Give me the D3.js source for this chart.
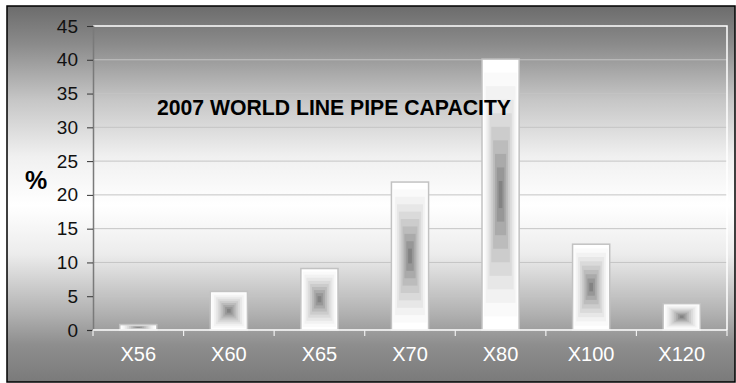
<!DOCTYPE html>
<html>
<head>
<meta charset="utf-8">
<script src="https://cdn.jsdelivr.net/npm/d3@7/dist/d3.min.js"></script>
<style>
  html, body { margin: 0; padding: 0; background: #ffffff; }
  svg { display: block; }
  text { font-family: "Liberation Sans", Arial, sans-serif; }
</style>
</head>
<body>
<svg id="chart" width="736" height="383"></svg>
<script>
// Share of world line pipe capacity by steel grade, 2007 (%)
const grades = ["X56", "X60", "X65", "X70", "X80", "X100", "X120"];
const shares = [0.8, 5.7, 9.1, 21.9, 40.1, 12.7, 3.9];
const yTicks = [0, 5, 10, 15, 20, 25, 30, 35, 40, 45];
const titleText = "2007 WORLD LINE PIPE CAPACITY";
const yAxisLabel = "%";

const svg = d3.select("#chart");
const frame = { x: 7, y: 6, w: 728, h: 376 };
const plot = { left: 93, right: 727, top: 26, bottom: 330 };

const defs = svg.append("defs");

// Vertical grey-white-grey background wash
const bg = defs.append("linearGradient")
  .attr("id", "bgGrad").attr("x1", 0).attr("y1", 0).attr("x2", 0).attr("y2", 1);
[
  [0.00, "#6c6c6c"],
  [0.10, "#8a8a8a"],
  [0.25, "#c6c6c6"],
  [0.40, "#f0f0f0"],
  [0.53, "#ffffff"],
  [0.66, "#ececec"],
  [0.82, "#b0b0b0"],
  [0.90, "#8e8e8e"],
  [1.00, "#7a7a7a"]
].forEach(([o, c]) => bg.append("stop").attr("offset", o).attr("stop-color", c));

svg.append("rect")
  .attr("x", frame.x).attr("y", frame.y)
  .attr("width", frame.w).attr("height", frame.h)
  .attr("fill", "url(#bgGrad)");

const x = d3.scaleBand()
  .domain(grades)
  .range([plot.left, plot.right])
  .paddingInner(0.59)
  .paddingOuter(0.295);

const y = d3.scaleLinear()
  .domain([0, 45])
  .range([plot.bottom, plot.top]);

// Horizontal gridlines
svg.append("g")
  .selectAll("line")
  .data(yTicks.filter(t => t > 0 && t < 45))
  .join("line")
  .attr("x1", plot.left).attr("x2", plot.right)
  .attr("y1", d => y(d)).attr("y2", d => y(d))
  .attr("stroke", "#c4c4c4").attr("stroke-width", 1);

// Plot area frame (top and right edges in white)
svg.append("path")
  .attr("d", `M${plot.left},${plot.top}H${plot.right}V${plot.bottom}`)
  .attr("fill", "none").attr("stroke", "#ffffff").attr("stroke-width", 1.5);

// Bars with stepped rectangular shading: white rim, dark core
const steps = 10;
const shade = d3.interpolateRgb("#ffffff", "#6e6e6e");
const barG = svg.append("g");
grades.forEach((g, i) => {
  const bx = x(g), bw = x.bandwidth();
  const by = y(shares[i]), bh = y(0) - y(shares[i]);
  const grp = barG.append("g");
  for (let s = 0; s < steps; s++) {
    const f = s / steps;
    grp.append("rect")
      .attr("x", bx + f * bw / 2)
      .attr("y", by + f * bh / 2)
      .attr("width", Math.max(0, bw * (1 - f)))
      .attr("height", Math.max(0, bh * (1 - f)))
      .attr("fill", shade(Math.pow(f, 1.5)));
  }
  grp.append("rect")
    .attr("x", bx).attr("y", by)
    .attr("width", bw).attr("height", bh)
    .attr("fill", "none").attr("stroke", "#c2c2c2").attr("stroke-width", 1.5);
});

// Y axis
const yAxis = d3.axisLeft(y).tickValues(yTicks).tickSize(6).tickPadding(9);
const yg = svg.append("g")
  .attr("transform", `translate(${plot.left},0)`)
  .call(yAxis);
yg.select(".domain").attr("stroke", "#7a7a7a").attr("stroke-width", 1.5);
yg.selectAll(".tick line").attr("stroke", "#333333");
yg.selectAll(".tick text")
  .attr("fill", "#111111")
  .attr("font-size", 19)
  .attr("font-family", "Liberation Sans, Arial, sans-serif");

// X axis
const xAxis = d3.axisBottom(x).tickSize(0).tickPadding(17);
const xg = svg.append("g")
  .attr("transform", `translate(0,${plot.bottom})`)
  .call(xAxis);
xg.select(".domain").remove();
xg.selectAll(".tick text")
  .attr("fill", "#ffffff")
  .attr("font-size", 20)
  .attr("font-family", "Liberation Sans, Arial, sans-serif");

svg.append("line")
  .attr("x1", plot.left).attr("x2", plot.right)
  .attr("y1", plot.bottom).attr("y2", plot.bottom)
  .attr("stroke", "#ffffff").attr("stroke-width", 1.5);

// Category separators below the axis
const step = x.step();
svg.append("g")
  .selectAll("line")
  .data(d3.range(grades.length + 1))
  .join("line")
  .attr("x1", k => plot.left + k * step)
  .attr("x2", k => plot.left + k * step)
  .attr("y1", plot.bottom).attr("y2", plot.bottom + 6)
  .attr("stroke", "#f0f0f0").attr("stroke-width", 1.2);

// Title
svg.append("text")
  .attr("x", 157).attr("y", 115)
  .attr("font-size", 22).attr("font-weight", "bold")
  .attr("fill", "#000000")
  .attr("textLength", 354).attr("lengthAdjust", "spacingAndGlyphs")
  .text(titleText);

// Unit label
svg.append("text")
  .attr("x", 25).attr("y", 189)
  .attr("font-size", 25).attr("font-weight", "bold")
  .attr("fill", "#000000")
  .text(yAxisLabel);

// Outer chart border
svg.append("rect")
  .attr("x", frame.x).attr("y", frame.y)
  .attr("width", frame.w).attr("height", frame.h)
  .attr("fill", "none").attr("stroke", "#000000").attr("stroke-width", 1.5);
</script>
</body>
</html>
